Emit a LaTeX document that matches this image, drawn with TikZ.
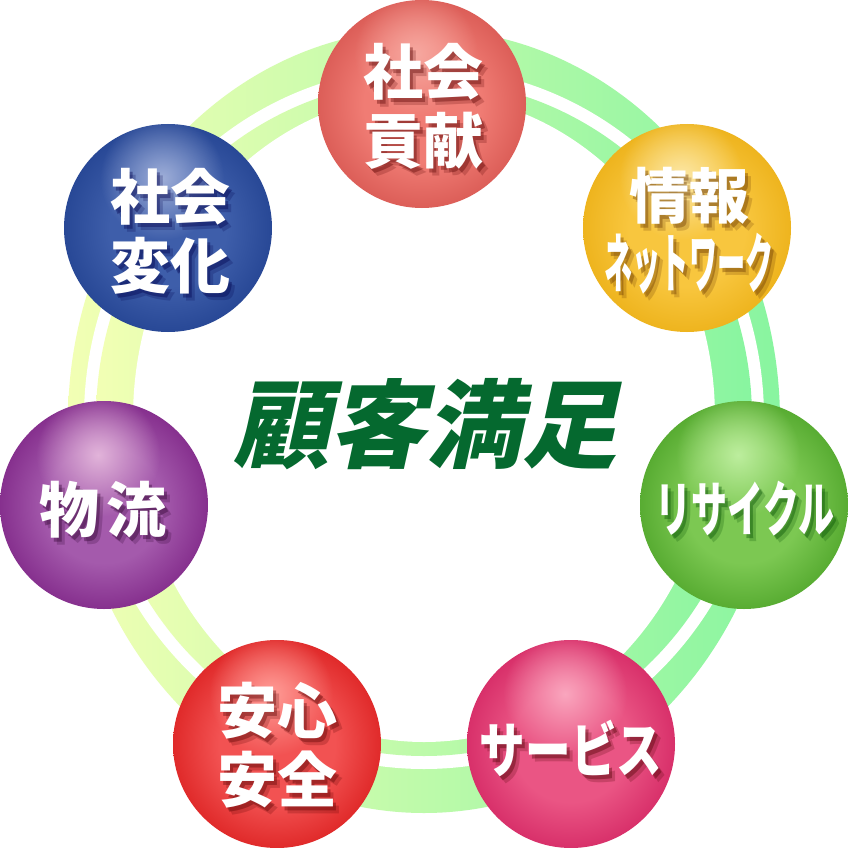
\documentclass[tikz,border=0pt]{standalone}
\usepackage{fontspec}
\newfontfamily\jp{Noto Sans CJK JP}
\newfontfamily\jpsl{Noto Sans CJK JP}[FakeSlant=0.22]
\usetikzlibrary{fadings}
\definecolor{ringL}{HTML}{F2FFB4}
\definecolor{ringR}{HTML}{88F5A0}
\definecolor{titlegreen}{HTML}{05692F}
\colorlet{sphbase}{red}
\colorlet{sphdark}{red}
\colorlet{sphlight}{white}
\pgfdeclareradialshading[sphbase,sphdark]{sphbody}{\pgfpointorigin}{color(0bp)=(sphbase); color(14bp)=(sphbase); color(25bp)=(sphdark); color(50bp)=(sphdark)}
\tikzfading[name=glow, inner color=transparent!0, outer color=transparent!100]
\tikzset{
  orbnode/.style={circle, minimum size=208pt, inner sep=0pt},
  orbtxt/.style={align=center, inner sep=0pt, font=\jp\bfseries\fontsize{60}{69}\selectfont},
  titletxt/.style={inner sep=0pt, text=titlegreen, font=\jpsl\bfseries\fontsize{96}{96}\selectfont}
}
% name, x, y, light, base, dark (HTML)
\newcommand{\orb}[6]{%
  \definecolor{sphlight}{HTML}{#4}%
  \definecolor{sphbase}{HTML}{#5}%
  \definecolor{sphdark}{HTML}{#6}%
  \shade[shading=sphbody] (#2,#3) circle (104);
  \begin{scope}
    \clip (#2,#3) circle (104);
    \fill[sphlight, path fading=glow] (#2-6,#3-50) circle (62);
  \end{scope}
  \node[orbnode] (#1) at (#2,#3) {};
}
% name, x, y, shadow colour, text
\newcommand{\orbtext}[5]{%
  \node[orbtxt, text=#4, opacity=.22] (#1-s2) at (#2+6,#3+7) {#5};
  \node[orbtxt, text=#4, opacity=.38] (#1-s1) at (#2+3,#3+4) {#5};
  \node[orbtxt, text=white] (#1-t) at (#2,#3) {#5};
}
\begin{document}
\begin{tikzpicture}[x=1pt,y=-1pt]
\useasboundingbox[fill=white] (0,0) rectangle (848,848);
% double ring
\shade[left color=ringL, right color=ringR] (424,421) ellipse (356 and 392);
\fill[white] (424,418) ellipse (340 and 351);
\shade[left color=ringL, right color=ringR] (424,418) ellipse (328 and 338);
\fill[white] (424,418) ellipse (291 and 324);
% spheres
\orb{kouken}{422}{104}{F6A8A0}{F07C74}{DC5E58}
\orb{joho}{687}{228}{FCE8A8}{F8C63E}{EEB41E}
\orb{recycle}{744}{505}{BDEE9E}{7CC852}{58AC32}
\orb{service}{571}{744}{FAA6BE}{EA5584}{D8306A}
\orb{anshin}{277}{744}{FF9C96}{F25252}{E02A2A}
\orb{butsuryu}{104}{505}{E2B4DA}{A45AAC}{86308E}
\orb{henka}{168}{228}{9EAED8}{3E5EAA}{284896}
% labels
\orbtext{kouken}{423}{106}{red!35!black}{社会\\貢献}
\orbtext{joho}{689}{231}{orange!40!black}{情報\\\scalebox{0.47}[1.08]{ネットワーク}}
\orbtext{recycle}{745}{509}{green!30!black}{\scalebox{0.6}[1]{リサイクル}}
\orbtext{service}{571}{748}{red!30!black}{\scalebox{0.76}[1]{サービス}}
\orbtext{anshin}{277}{745}{red!35!black}{安心\\安全}
\orbtext{butsuryu}{103}{510}{violet!35!black}{物\hspace{8pt}流}
\orbtext{henka}{170}{231}{blue!30!black}{社会\\変化}
% title
\node[titletxt] (title) at (425,424) {顧客満足};
\end{tikzpicture}
\end{document}
